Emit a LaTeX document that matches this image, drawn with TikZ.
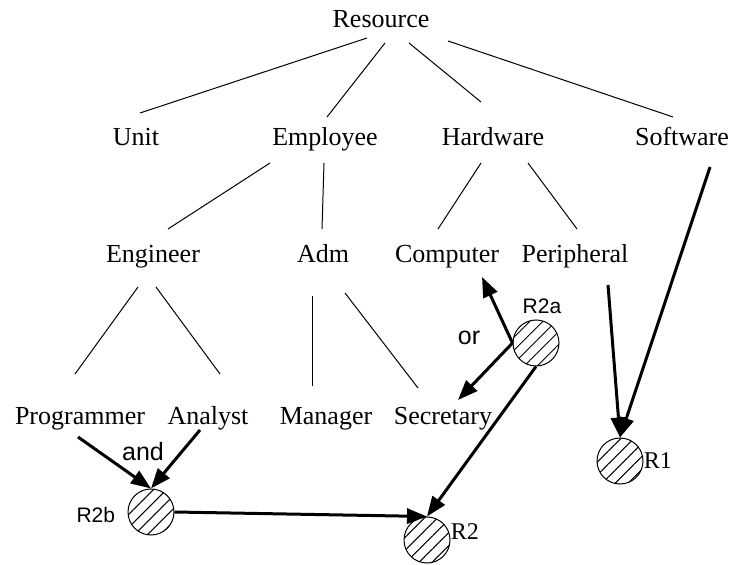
\documentclass[tikz,border=0pt]{standalone}
\usepackage{fontspec}
\setmainfont{Liberation Serif}
\setsansfont{Liberation Sans}
\usetikzlibrary{positioning,arrows.meta,patterns.meta}

\begin{document}
\begin{tikzpicture}[
  x=0.5pt, y=-0.5pt,
  concept/.style={anchor=base, inner sep=0pt, font=\fontsize{13}{15}\selectfont},
  rulecirc/.style={circle, draw, line width=0.5pt, minimum size=23pt, inner sep=0pt,
                   pattern={Lines[angle=45, distance=4.6pt, line width=0.5pt]}},
  rlabel/.style={inner sep=0pt, font=\fontsize{12}{14}\selectfont},
  tag/.style={inner sep=0pt, font=\sffamily\fontsize{10.5}{12}\selectfont},
  conn/.style={inner sep=0pt, font=\sffamily\fontsize{12.5}{14}\selectfont},
  isa/.style={line width=0.5pt},
  arrow/.style={-{Triangle[length=10pt, width=7.5pt]}, line width=1.5pt}
]
\useasboundingbox (0,0) rectangle (732,565);

% hierarchy
\node[concept] (resource) at (381,28) {Resource};
\node[concept] (unit) at (136,146) {Unit};
\node[concept] (employee) at (325,146) {Employee};
\node[concept] (hardware) at (493,146) {Hardware};
\node[concept] (software) at (682,146) {Software};
\node[concept] (engineer) at (153,263) {Engineer};
\node[concept] (adm) at (323,263) {Adm};
\node[concept] (computer) at (447,263) {Computer};
\node[concept] (peripheral) at (575,263) {Peripheral};
\node[concept] (programmer) at (80,425) {Programmer};
\node[concept] (analyst) at (208,425) {Analyst};
\node[concept] (manager) at (326,425) {Manager};
\node[concept] (secretary) at (443,425) {Secretary};

\draw[isa] ([shift={(-14,10)}]resource.base) -- ([shift={(4,-33)}]unit.base);
\draw[isa] ([shift={(4,15)}]resource.base) -- ([shift={(2,-29)}]employee.base);
\draw[isa] ([shift={(28,15)}]resource.base) -- ([shift={(-12,-44)}]hardware.base);
\draw[isa] ([shift={(67,13)}]resource.base) -- ([shift={(-9,-29)}]software.base);
\draw[isa] ([shift={(-55,17)}]employee.base) -- ([shift={(15,-34)}]engineer.base);
\draw[isa] ([shift={(-1,17)}]employee.base) -- ([shift={(-1,-34)}]adm.base);
\draw[isa] ([shift={(-12,17)}]hardware.base) -- ([shift={(-9,-34)}]computer.base);
\draw[isa] ([shift={(35,17)}]hardware.base) -- ([shift={(2,-34)}]peripheral.base);
\draw[isa] ([shift={(-15,24)}]engineer.base) -- ([shift={(-5,-51)}]programmer.base);
\draw[isa] ([shift={(3,24)}]engineer.base) -- ([shift={(12,-51)}]analyst.base);
\draw[isa] ([shift={(-11,33)}]adm.base) -- ([shift={(-14,-39)}]manager.base);
\draw[isa] ([shift={(22,30)}]adm.base) -- ([shift={(-25,-37)}]secretary.base);

% rules
\node[rulecirc] (r1) at (620,461) {};
\node[rulecirc] (r2a) at (536,343) {};
\node[rulecirc] (r2b) at (151,512) {};
\node[rulecirc] (r2) at (427,540) {};

\node[rlabel, right=0pt of r1] (r1name) {R1};
\node[rlabel, right=0pt of r2, yshift=4pt] (r2name) {R2};
\node[tag, above=2.5pt of r2a, xshift=3pt] (r2aname) {R2a};
\node[tag, left=6pt of r2b, yshift=-1.5pt] (r2bname) {R2b};
\node[conn] (orlabel) at (469,338) {or};
\node[conn] (andlabel) at (143,452) {and};

\draw[arrow] ([shift={(28,21)}]software.base) -- (r1.north);
\draw[arrow] ([shift={(33,22)}]peripheral.base) -- (r1.north);
\draw[arrow] (r2a.west) -- ([shift={(35,14)}]computer.base);
\draw[arrow] (r2a.west) -- ([shift={(15,-25)}]secretary.base);
\draw[arrow] (r2a.south) -- (r2.north);
\draw[arrow] ([shift={(-2,12)}]programmer.base) -- (r2b.north);
\draw[arrow] ([shift={(-8,5)}]analyst.base) -- (r2b.north);
\draw[arrow] (r2b.east) -- (r2.north);
\end{tikzpicture}
\end{document}
